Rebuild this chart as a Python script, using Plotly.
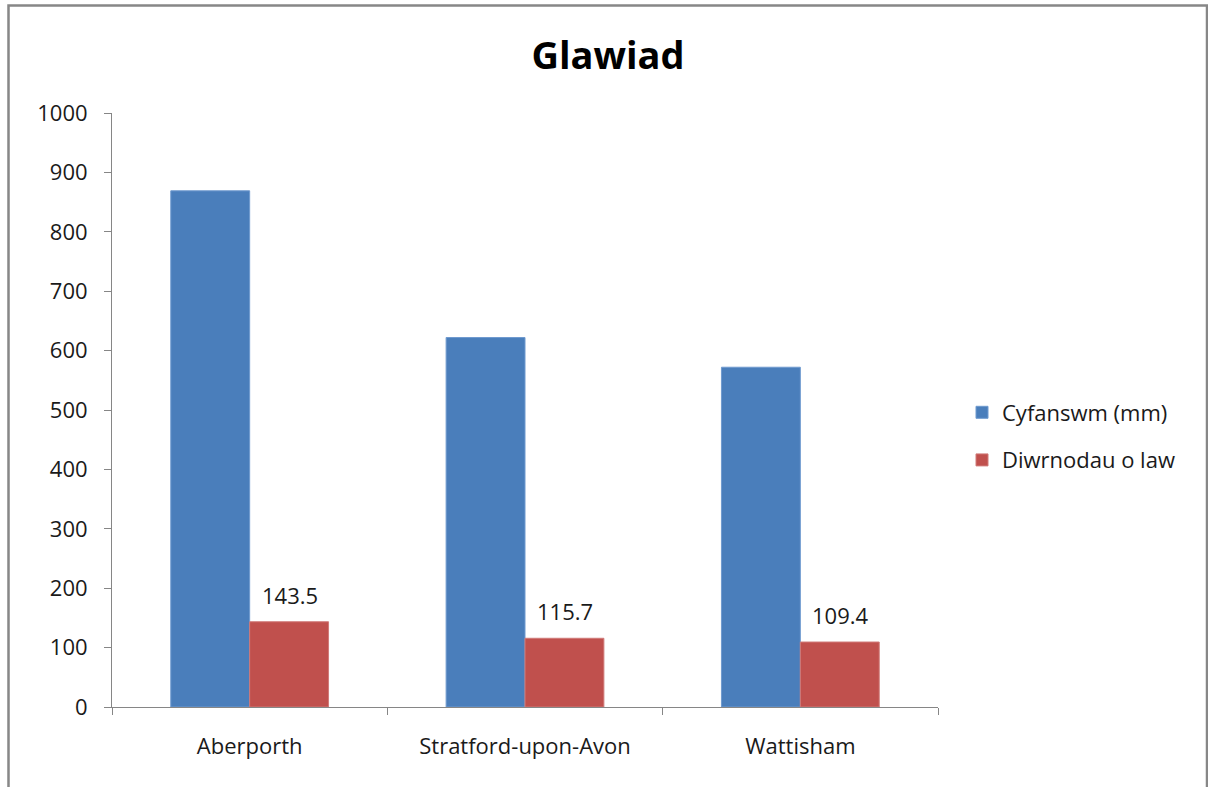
import plotly.graph_objects as go

categories = ["Aberporth", "Stratford-upon-Avon", "Wattisham"]
cyfanswm = [869, 622, 572]
diwrnodau = [143.5, 115.7, 109.4]
series_names = ["Cyfanswm (mm)", "Diwrnodau o law"]
y_ticks = [0, 100, 200, 300, 400, 500, 600, 700, 800, 900, 1000]

W, H = 1208, 787
ML, MR, MT, MB = 112, 270, 113, 80
pw = W - ML - MR
ph = H - MT - MB

FONT = "Open Sans, sans-serif"
TXT = "#1a1a1a"
FS = 22

fig = go.Figure()
fig.add_trace(go.Bar(
    x=categories, y=cyfanswm, name=series_names[0], legendgroup="a",
    marker=dict(color="#4A7EBB", line=dict(color="#6F9ACF", width=1)),
))
fig.add_trace(go.Bar(
    x=categories, y=diwrnodau, name=series_names[1], legendgroup="b",
    marker=dict(color="#C0504D", line=dict(color="#D07A78", width=1)),
))

for c, v in zip(categories, diwrnodau):
    fig.add_annotation(x=c, y=v, text=f"{v:.1f}", showarrow=False,
                       xanchor="center", yanchor="bottom", xshift=40, yshift=10,
                       font=dict(size=FS, family=FONT, color=TXT))

def px_x(x):
    return (x - ML) / pw

def px_y(y):
    return (H - MB - y) / ph

fig.add_shape(type="rect", xref="paper", yref="paper",
              x0=px_x(8.5), x1=px_x(1207), y0=px_y(5.5), y1=px_y(800),
              line=dict(color="#878787", width=2.5), fillcolor="rgba(0,0,0,0)", layer="below")

fig.update_layout(
    width=W, height=H,
    margin=dict(l=ML, r=MR, t=MT, b=MB, pad=0),
    paper_bgcolor="white", plot_bgcolor="white",
    barmode="group", bargap=0.427, bargroupgap=0,
    title=dict(text="<b>Glawiad</b>", x=608 / W, xref="container", xanchor="center",
               y=1 - 56 / H, yref="container", yanchor="middle",
               font=dict(size=38, family=FONT, color="black")),
    font=dict(family=FONT, size=FS, color=TXT),
    legend=dict(x=px_x(962), y=px_y(436.5), xanchor="left", yanchor="middle",
                font=dict(size=FS, family=FONT, color=TXT),
                itemwidth=30, tracegroupgap=16, bgcolor="rgba(0,0,0,0)"),
    showlegend=True,
)
fig.update_xaxes(
    showline=True, linecolor="#868686", linewidth=1,
    ticks="outside", ticklen=7, tickcolor="#868686", tickson="boundaries",
    tickfont=dict(size=FS, family=FONT, color=TXT),
    showgrid=False, ticklabelstandoff=20,
)
fig.update_yaxes(
    range=[0, 1000], tickvals=y_ticks, showline=True, linecolor="#868686", linewidth=1,
    ticks="outside", ticklen=7, tickcolor="#868686",
    tickfont=dict(size=FS, family=FONT, color=TXT),
    showgrid=False, zeroline=False, ticklabelstandoff=12,
)

fig.write_html("out.html")
